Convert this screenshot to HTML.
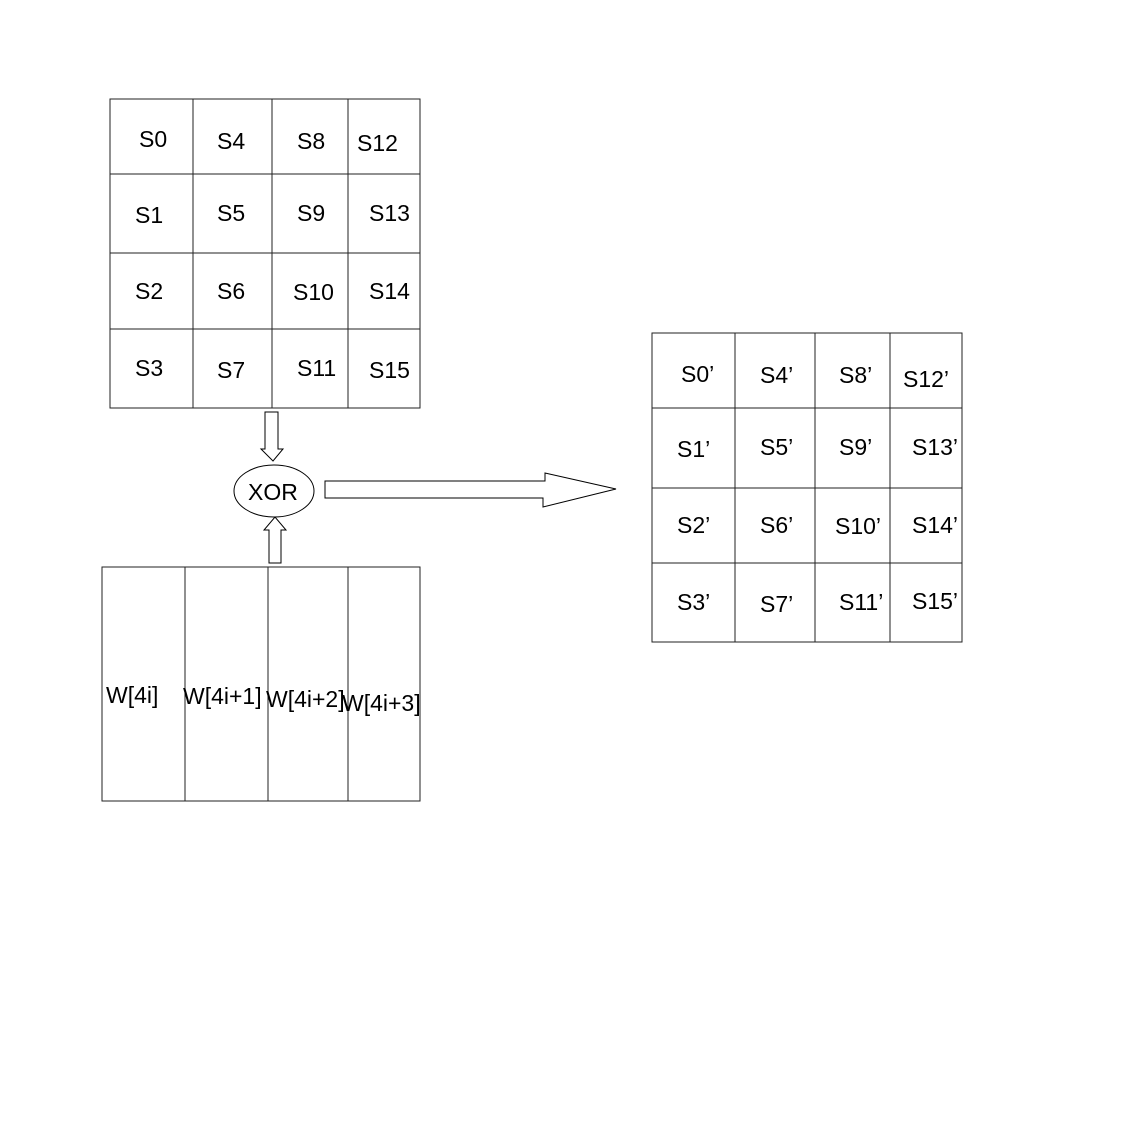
<!DOCTYPE html>
<html><head><style>body{margin:0;background:#fff}</style></head><body>
<svg width="1134" height="1123" xmlns="http://www.w3.org/2000/svg" font-family="Liberation Sans, sans-serif" font-size="23" fill="none" stroke="#000" stroke-width="1">
<g stroke="#222">
<rect x="110" y="99" width="310" height="309"/>
<line x1="193" y1="99" x2="193" y2="408"/><line x1="272" y1="99" x2="272" y2="408"/><line x1="348" y1="99" x2="348" y2="408"/>
<line x1="110" y1="174" x2="420" y2="174"/><line x1="110" y1="253" x2="420" y2="253"/><line x1="110" y1="329" x2="420" y2="329"/>
<rect x="652" y="333" width="310" height="309"/>
<line x1="735" y1="333" x2="735" y2="642"/><line x1="815" y1="333" x2="815" y2="642"/><line x1="890" y1="333" x2="890" y2="642"/>
<line x1="652" y1="408" x2="962" y2="408"/><line x1="652" y1="488" x2="962" y2="488"/><line x1="652" y1="563" x2="962" y2="563"/>
<rect x="102" y="567" width="318" height="234"/>
<line x1="185" y1="567" x2="185" y2="801"/><line x1="268" y1="567" x2="268" y2="801"/><line x1="348" y1="567" x2="348" y2="801"/>
</g>
<polygon points="265,412 278,412 278,449 283,449 273,461 261,449 265,449"/>
<polygon points="269,563 281,563 281,530 286,530 275,517 264,530 269,530" fill="#fff"/>
<polygon points="325,481 545,481 545,473 616,489 543,507 543,498 325,498"/>
<ellipse cx="274" cy="491" rx="40" ry="26" fill="#fff"/>
<g fill="#000" stroke="none">
<text x="248" y="500">XOR</text>
<text x="139" y="147">S0</text><text x="217" y="149">S4</text><text x="297" y="149">S8</text><text x="357" y="151">S12</text>
<text x="135" y="223">S1</text><text x="217" y="221">S5</text><text x="297" y="221">S9</text><text x="369" y="221">S13</text>
<text x="135" y="299">S2</text><text x="217" y="299">S6</text><text x="293" y="300">S10</text><text x="369" y="299">S14</text>
<text x="135" y="376">S3</text><text x="217" y="378">S7</text><text x="297" y="376">S11</text><text x="369" y="378">S15</text>
<text x="681" y="382">S0’</text><text x="760" y="383">S4’</text><text x="839" y="383">S8’</text><text x="903" y="387">S12’</text>
<text x="677" y="457">S1’</text><text x="760" y="455">S5’</text><text x="839" y="455">S9’</text><text x="912" y="455">S13’</text>
<text x="677" y="533">S2’</text><text x="760" y="533">S6’</text><text x="835" y="534">S10’</text><text x="912" y="533">S14’</text>
<text x="677" y="610">S3’</text><text x="760" y="612">S7’</text><text x="839" y="610">S11’</text><text x="912" y="609">S15’</text>
<text x="106" y="703">W[4i]</text><text x="183" y="704">W[4i+1]</text><text x="266" y="707">W[4i+2]</text><text x="342" y="711">W[4i+3]</text>
</g>
</svg>
</body></html>
